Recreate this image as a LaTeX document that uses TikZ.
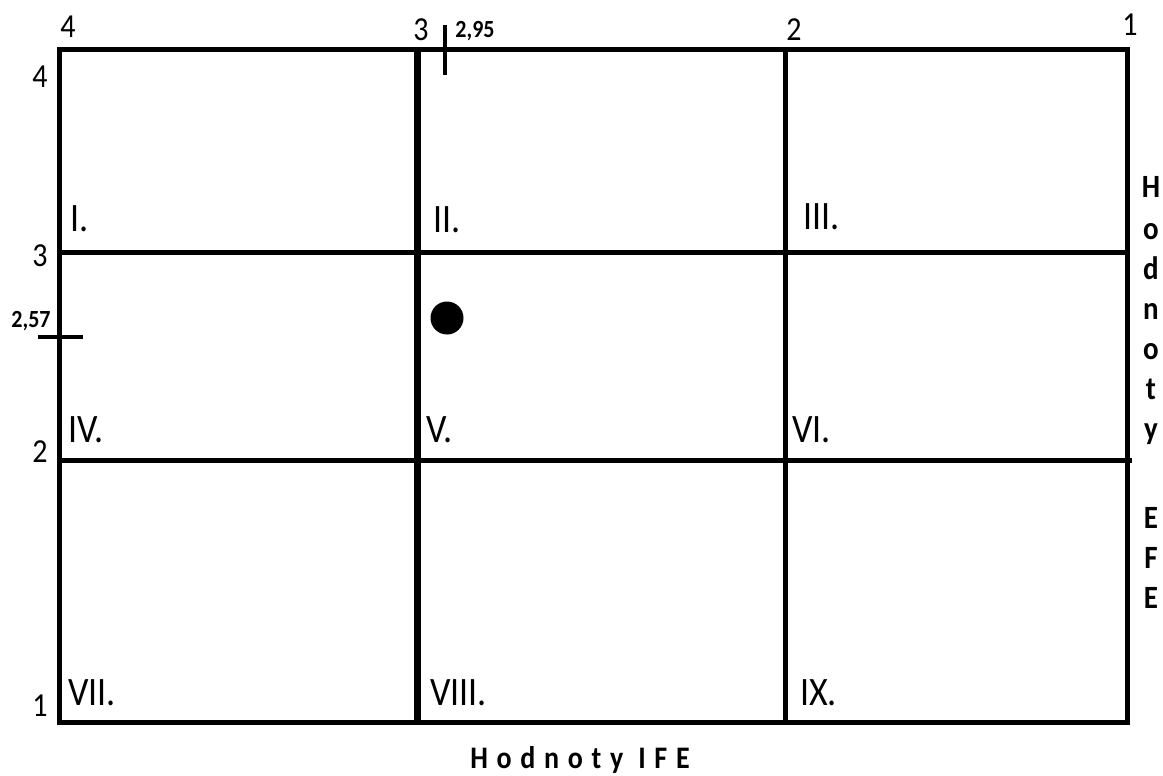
\documentclass[tikz,border=0pt]{standalone}
\usepackage{fontspec}
\setmainfont{Carlito}
\newcommand{\tallx}[1]{\scalebox{1}[1.12]{#1}}
\begin{document}
\begin{tikzpicture}[x=1pt,y=-1pt,
  border/.style={line width=5pt,line cap=rect},
  mainv/.style={line width=7pt},
  gridh/.style={line width=4.5pt},
  axnum/.style={font=\fontsize{30}{32}\selectfont,inner sep=0pt},
  roman/.style={font=\fontsize{36}{40}\selectfont,anchor=base west,inner sep=0pt},
  tickline/.style={line width=4pt},
  ticklab/.style={font=\bfseries\fontsize{22}{24}\selectfont,inner sep=0pt},
  vlet/.style={font=\bfseries\fontsize{29}{30}\selectfont,anchor=base,inner sep=0pt}]
\useasboundingbox (0,0) rectangle (1163,776);
% grid coordinates
\coordinate (tl) at (59.5,49.5);
\coordinate (tr) at (1127,49.5);
\coordinate (bl) at (59.5,722);
\coordinate (br) at (1127,722);
\coordinate (v1t) at (417,49.5);
\coordinate (v1b) at (417,722);
\coordinate (v2t) at (785,49.5);
\coordinate (v2b) at (785,722);
\coordinate (h1l) at (59.5,252.5);
\coordinate (h1r) at (1127,252.5);
\coordinate (h2l) at (59.5,460.5);
\coordinate (h2r) at (1132,460.5);
% inner lines
\draw[gridh] (h1l) -- (h1r);
\draw[gridh] (h2l) -- (h2r);
\draw[mainv] (v1t) -- (v1b);
\draw[border] (v2t) -- (v2b);
\draw[border] (tl) -- (tr) -- (br) -- (bl) -- cycle;
% axis numbers top
\node[axnum] (t4) at (68,27) {\tallx{4}};
\node[axnum] (t3) at (421,30) {\tallx{3}};
\node[axnum] (t2) at (794,30) {\tallx{2}};
\node[axnum] (t1) at (1130,25) {\tallx{1}};
% axis numbers left
\node[axnum] (l4) at (40,77) {\tallx{4}};
\node[axnum] (l3) at (40,256) {\tallx{3}};
\node[axnum] (l2) at (40,452) {\tallx{2}};
\node[axnum] (l1) at (40,706) {\tallx{1}};
% ticks
\coordinate (ta) at (445,25);
\coordinate (tb) at (445,75);
\draw[tickline] (ta) -- (tb);
\node[ticklab] (lab295) at (475,31) {\tallx{2,95}};
\coordinate (sa) at (38,337);
\coordinate (sb) at (83,337);
\draw[tickline] (sa) -- (sb);
\node[ticklab] (lab257) at (31,321) {\tallx{2,57}};
% point
\fill (447,318) circle (16.5);
% roman labels
\node[roman] (r1) at (70,231) {\tallx{I.}};
\node[roman] (r2) at (433,232) {\tallx{II.}};
\node[roman] (r3) at (803,229) {\tallx{III.}};
\node[roman] (r4) at (68,442) {\tallx{IV.}};
\node[roman] (r5) at (426,442) {\tallx{V.}};
\node[roman] (r6) at (792,442) {\tallx{VI.}};
\node[roman] (r7) at (68,705) {\tallx{VII.}};
\node[roman] (r8) at (430,705) {\tallx{VIII.}};
\node[roman] (r9) at (800,705) {\tallx{IX.}};
% vertical axis title
\foreach \ch/\yy [count=\i] in {H/197,o/239,d/279,n/319,o/359,t/399,y/439,E/528,F/568,E/608}
  \node[vlet] (v\i) at (1151,\yy) {\tallx{\ch}};
% horizontal axis title
\node[font=\bfseries\fontsize{28}{30}\selectfont\addfontfeature{LetterSpace=31},anchor=base,inner sep=0pt] (xtitle) at (580,768) {\tallx{Hodnoty IFE}};
\end{tikzpicture}
\end{document}
